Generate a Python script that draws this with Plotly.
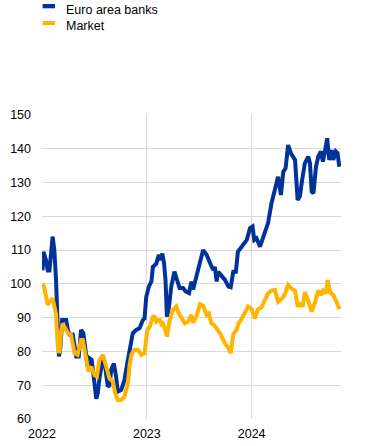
import plotly.graph_objects as go

banks_dates = ["2022-01-03","2022-01-06","2022-01-15","2022-01-21","2022-01-27","2022-02-02","2022-02-07","2022-02-13","2022-02-19","2022-02-25",
"2022-03-01","2022-03-06","2022-03-12","2022-03-20","2022-03-26","2022-04-01","2022-04-07","2022-04-18","2022-04-30","2022-05-09",
"2022-05-17","2022-05-25","2022-06-04","2022-06-09","2022-06-15","2022-06-23","2022-06-30","2022-07-09","2022-07-14","2022-07-20",
"2022-08-01","2022-08-09","2022-08-18","2022-08-24","2022-08-30","2022-09-08","2022-09-16","2022-09-22","2022-10-04","2022-10-15",
"2022-10-27","2022-11-08","2022-11-13","2022-11-25","2022-12-07","2022-12-18","2022-12-24","2022-12-30","2023-01-08","2023-01-17",
"2023-01-22","2023-02-03","2023-02-12","2023-02-18","2023-02-24","2023-03-02","2023-03-07","2023-03-12","2023-03-19","2023-03-27",
"2023-04-07","2023-04-16","2023-04-25","2023-05-07","2023-05-16","2023-05-28","2023-06-05","2023-06-11","2023-06-23","2023-07-05",
"2023-07-16","2023-07-28","2023-08-05","2023-08-12","2023-08-20","2023-08-26","2023-09-01","2023-09-06","2023-09-16","2023-09-30",
"2023-10-12","2023-10-20","2023-10-29","2023-11-07","2023-11-14","2023-11-28","2023-12-15","2023-12-26","2024-01-04","2024-01-10",
"2024-01-18","2024-01-30","2024-02-07","2024-02-16","2024-02-27","2024-03-10","2024-03-22","2024-04-02","2024-04-12","2024-04-20",
"2024-04-28","2024-05-07","2024-05-17","2024-05-25","2024-05-31","2024-06-09","2024-06-17","2024-06-23","2024-07-04","2024-07-16",
"2024-07-22","2024-07-28","2024-08-03","2024-08-12","2024-08-20","2024-08-29","2024-09-05","2024-09-12","2024-09-20","2024-09-27",
"2024-10-06","2024-10-11","2024-10-20","2024-10-26","2024-11-01"]
banks_values = [104, 109.5, 107, 104, 104, 111, 114, 110, 101, 86.4,
78.5, 81, 89.3, 89.3, 89.3, 86.4, 85, 85, 78.5, 78.5,
86.4, 85.4, 79.5, 75.5, 78, 77.5, 72.5, 66, 67.5, 72,
78, 75.5, 69.6, 70, 74.5, 76.4, 72.5, 68.1, 68.6, 71.5,
77.5, 82.4, 85.4, 86.4, 86.9, 89.3, 89.8, 96.2, 99.2, 100.7,
105, 106, 108.6, 107, 109, 106, 101.2, 90.3, 93.2, 99.2,
103.6, 101.2, 98.8, 98.8, 97.8, 97.3, 100.7, 98.3, 102.2, 107.1,
110, 108.6, 106.5, 105.6, 104.1, 105, 100.7, 103.6, 102.6, 101.2,
99.2, 99, 103.6, 103.6, 109.5, 111, 113, 116.5, 117, 113,
113.5, 111, 113, 116, 118, 123.9, 127.8, 131.7, 126.3, 133.2,
134.2, 141.1, 138.6, 137.7, 136.7, 124.8, 126, 129.8, 135.7, 137.7,
135.7, 127.3, 126.8, 134.7, 137.7, 139.2, 136.2, 139.2, 143.1, 136.7,
139.6, 136.7, 139.2, 138.7, 134.7]

market_dates = ["2022-01-03","2022-01-09","2022-01-21","2022-01-27","2022-02-07","2022-02-13","2022-02-19","2022-02-25","2022-03-03","2022-03-09",
"2022-03-14","2022-03-20","2022-04-01","2022-04-12","2022-04-24","2022-05-05","2022-05-17","2022-05-23","2022-06-04","2022-06-12",
"2022-06-21","2022-07-03","2022-07-11","2022-07-20","2022-08-01","2022-08-13","2022-08-24","2022-09-05","2022-09-13","2022-09-22",
"2022-10-04","2022-10-15","2022-10-27","2022-11-02","2022-11-08","2022-11-19","2022-12-01","2022-12-13","2022-12-24","2023-01-03",
"2023-01-11","2023-01-22","2023-01-28","2023-02-03","2023-02-09","2023-02-15","2023-02-21","2023-02-26","2023-03-04","2023-03-12",
"2023-03-21","2023-04-02","2023-04-14","2023-04-19","2023-05-01","2023-05-13","2023-05-24","2023-06-05","2023-06-11","2023-06-23",
"2023-07-05","2023-07-16","2023-07-28","2023-08-05","2023-08-14","2023-08-23","2023-09-01","2023-09-12","2023-09-30","2023-10-12",
"2023-10-20","2023-10-29","2023-11-10","2023-11-16","2023-11-25","2023-12-09","2023-12-20","2024-01-01","2024-01-12","2024-01-23",
"2024-02-04","2024-02-16","2024-02-27","2024-03-10","2024-03-22","2024-04-02","2024-04-14","2024-04-26","2024-05-07","2024-05-20",
"2024-05-31","2024-06-09","2024-06-17","2024-06-27","2024-07-04","2024-07-16","2024-07-28","2024-08-09","2024-08-20","2024-08-29",
"2024-09-06","2024-09-16","2024-09-21","2024-09-30","2024-10-11","2024-10-24","2024-11-01"]
market_values = [100.2, 98.8, 93.8, 94.8, 95.7, 93.8, 91, 81.4, 79.5, 86.4,
88.3, 87.3, 85.4, 85, 79.5, 79, 83.4, 83.4, 77.5, 74,
75.5, 73, 72.6, 77.5, 79, 75.5, 72, 71, 67.6, 65.6,
65.6, 66.6, 70.6, 76, 79, 80.5, 80.5, 79, 79.5, 86.4,
87.3, 90.3, 90.3, 88.8, 89.3, 89.3, 88, 88.3, 87, 84.4,
89, 92.3, 93.3, 91.8, 90.3, 88.3, 88.8, 90.8, 88.5, 90.5,
94, 93.5, 90.8, 91.3, 88.3, 87.8, 86.8, 85.5, 82.4, 81,
79.5, 85, 86.5, 88.3, 89.3, 91.5, 93.3, 92.5, 89.8, 92.5,
93, 95.2, 97.2, 98, 98.2, 94.7, 95.5, 97, 99.7, 98.5,
98, 93.3, 94, 93.3, 97.5, 95, 91.8, 94.7, 98, 96.7,
98, 97.2, 101.2, 97.5, 96.7, 94.3, 92.5]

series_names = ["Euro area banks", "Market"]
series_colors = ["#003299", "#ffb400"]

year_ticks = ["2022-01-01", "2023-01-01", "2024-01-01"]
year_labels = ["2022", "2023", "2024"]

FONT = "Arial"
TXT = "#000000"

fig = go.Figure()
fig.add_trace(go.Scatter(x=banks_dates, y=banks_values, mode="lines",
                         line=dict(color=series_colors[0], width=4),
                         name=series_names[0], showlegend=False))
fig.add_trace(go.Scatter(x=market_dates, y=market_values, mode="lines",
                         line=dict(color=series_colors[1], width=4),
                         name=series_names[1], showlegend=False))

# legend drawn as swatches + text above the plot area (paper coordinates)
leg_rows = [(1.3651, 1.3510, 1.3470), (1.3092, 1.2961, 1.2944)]
shapes = []
annotations = []
for (ytop, ybot, ytxt), nm, col in zip(leg_rows, series_names, series_colors):
    shapes.append(dict(type="rect", xref="paper", yref="paper",
                       x0=0.002, x1=0.0435, y0=ybot, y1=ytop,
                       fillcolor=col, line=dict(width=0)))
    annotations.append(dict(text=nm, xref="paper", yref="paper",
                            x=0.0746, y=ytxt, xanchor="left", yanchor="middle",
                            showarrow=False, font=dict(family=FONT, size=12.5, color=TXT)))

fig.update_layout(
    width=371, height=446,
    margin=dict(l=42, r=30, t=115, b=27, autoexpand=False),
    paper_bgcolor="white", plot_bgcolor="white",
    font=dict(family=FONT, size=12, color=TXT),
    showlegend=False,
    shapes=shapes,
    annotations=annotations,
    xaxis=dict(type="date", range=["2022-01-01", "2024-11-07"],
               tickvals=year_ticks, ticktext=year_labels,
               showgrid=True, gridcolor="#d9d9d9", gridwidth=1,
               zeroline=False, showline=False, ticks="", automargin=False,
               tickfont=dict(family=FONT, size=12.5, color=TXT),
               ticklabelstandoff=5),
    yaxis=dict(range=[60, 150], dtick=10, tick0=60,
               showgrid=True, gridcolor="#d9d9d9", gridwidth=1,
               zeroline=False, showline=False, ticks="", automargin=False,
               tickfont=dict(family=FONT, size=12.5, color=TXT),
               ticklabelstandoff=10),
)

# remove the default page margin so the figure starts at the window's corner
fig.write_html("out.html",
               config={"displayModeBar": False},
               post_script="document.body.style.margin='0';document.body.style.overflow='hidden';")
